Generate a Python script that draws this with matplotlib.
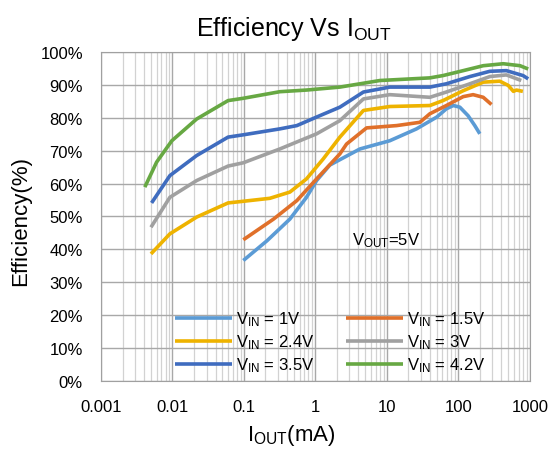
import matplotlib
matplotlib.use("Agg")
import matplotlib.pyplot as plt
from matplotlib.ticker import NullFormatter, LogLocator

plt.rcParams['font.family'] = ['Liberation Sans', 'DejaVu Sans']
plt.rcParams['mathtext.fontset'] = 'custom'
plt.rcParams['mathtext.rm'] = 'Liberation Sans'

# I_OUT (mA) and efficiency (%) per V_IN
x_1v = [0.098, 0.21, 0.44, 0.75, 1.04, 1.59, 4.2, 11, 26, 50, 68, 85, 105, 137, 170, 200]
y_1v = [36.6, 42.6, 49.2, 55.8, 60.9, 65.6, 70.5, 73.0, 76.6, 80.2, 82.7, 83.7, 83.2, 80.6, 77.6, 75.1]

x_15v = [0.098, 0.26, 0.55, 1.04, 2.2, 2.73, 5.2, 13.7, 29, 40, 68, 117, 161, 223, 291]
y_15v = [42.9, 49.2, 54.8, 61.4, 69.0, 72.0, 76.9, 77.6, 78.6, 81.2, 83.7, 86.4, 87.0, 86.2, 84.0]

x_24v = [0.005, 0.0092, 0.0218, 0.060, 0.098, 0.23, 0.44, 0.75, 1.29, 2.2, 4.7, 11, 40, 61, 117, 223, 380, 500, 590, 650, 800]
y_24v = [38.6, 44.7, 49.8, 54.1, 54.6, 55.5, 57.4, 61.4, 67.5, 74.1, 82.2, 83.4, 83.7, 85.2, 88.2, 90.8, 91.1, 89.8, 88.0, 88.4, 88.0]

x_3v = [0.005, 0.0092, 0.0218, 0.060, 0.098, 0.318, 1.04, 2.2, 4.7, 11, 40, 68, 145, 276, 470, 760]
y_3v = [46.7, 55.8, 60.9, 65.3, 66.3, 70.5, 75.1, 79.1, 85.7, 87.0, 86.2, 87.8, 90.3, 92.5, 93.0, 91.3]

x_35v = [0.0051, 0.0092, 0.0218, 0.060, 0.098, 0.318, 0.55, 1.04, 2.2, 4.7, 11, 40, 68, 145, 276, 470, 805, 950]
y_35v = [54.1, 62.4, 68.5, 74.1, 74.8, 76.6, 77.6, 80.2, 83.2, 87.8, 89.3, 89.3, 90.3, 92.5, 94.1, 94.3, 92.8, 91.8]

x_42v = [0.0041, 0.0060, 0.0098, 0.0218, 0.060, 0.098, 0.318, 0.75, 2.2, 8.0, 40, 61, 117, 223, 425, 730, 950]
y_42v = [58.9, 66.5, 73.0, 79.6, 85.2, 85.9, 87.9, 88.4, 89.3, 91.3, 92.1, 92.8, 94.3, 95.8, 96.4, 95.8, 94.8]

labels = ['$\\mathregular{V_{IN}}$ = 1V', '$\\mathregular{V_{IN}}$ = 1.5V',
          '$\\mathregular{V_{IN}}$ = 2.4V', '$\\mathregular{V_{IN}}$ = 3V',
          '$\\mathregular{V_{IN}}$ = 3.5V', '$\\mathregular{V_{IN}}$ = 4.2V']
colors = ['#5B9BD5', '#E0702A', '#EEB300', '#A0A0A0', '#3F6CBF', '#67A843']

x_ticks = [0.001, 0.01, 0.1, 1, 10, 100, 1000]
x_ticklabels = ['0.001', '0.01', '0.1', '1', '10', '100', '1000']
y_ticks = list(range(0, 101, 10))
y_ticklabels = [f'{v}%' for v in y_ticks]

fig = plt.figure(figsize=(5.49, 4.52), dpi=100)
ax = fig.add_axes([0.184, 0.155, 0.781, 0.728])

series = [(x_1v, y_1v), (x_15v, y_15v), (x_24v, y_24v), (x_3v, y_3v), (x_35v, y_35v), (x_42v, y_42v)]
handles = []
for (xs, ys), lab, c in zip(series, labels, colors):
    h, = ax.plot(xs, ys, color=c, lw=2.6, label=lab, solid_capstyle='butt', solid_joinstyle='round')
    handles.append(h)

ax.set_xscale('log')
ax.set_xlim(0.001, 1000)
ax.set_ylim(0, 100)
ax.set_xticks(x_ticks)
ax.set_xticklabels(x_ticklabels)
ax.xaxis.set_minor_locator(LogLocator(base=10, subs=range(2, 10), numticks=20))
ax.xaxis.set_minor_formatter(NullFormatter())
ax.set_yticks(y_ticks)
ax.set_yticklabels(y_ticklabels)
ax.tick_params(axis='both', which='both', length=0, labelsize=12)
ax.tick_params(axis='y', pad=13)
ax.tick_params(axis='x', pad=13)
ax.grid(True, which='major', color='#A8A8A8', lw=1.0)
ax.grid(True, which='minor', axis='x', color='#D2D2D2', lw=0.9)
ax.set_axisbelow(True)
for s in ax.spines.values():
    s.set_color('#A0A0A0')

ax.set_title('Efficiency Vs $\\mathregular{I_{OUT}}$', fontsize=18, x=0.45, pad=12)
ax.set_xlabel('$\\mathregular{I_{OUT}}$(mA)', fontsize=16)
ax.xaxis.set_label_coords(0.443, -0.125)
ax.set_ylabel('Efficiency(%)', fontsize=16)
ax.yaxis.set_label_coords(-0.162, 0.49)

ax.text(0.585, 0.43, '$\\mathregular{V_{OUT}}$=5V', transform=ax.transAxes, fontsize=12,
        va='center', ha='left')

order = [0, 2, 4, 1, 3, 5]
leg = ax.legend([handles[i] for i in order], [labels[i] for i in order], ncol=2,
                loc='lower left', bbox_to_anchor=(0.15, -0.01), frameon=False,
                fontsize=12, handlelength=3.4, handletextpad=0.25, columnspacing=1.9,
                labelspacing=0.25, borderaxespad=0.2)

fig.savefig('out.png', dpi=100)
